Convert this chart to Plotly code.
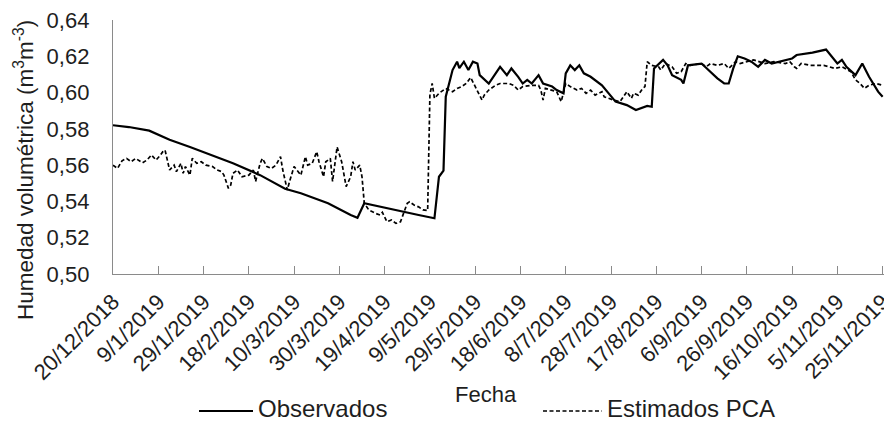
import pandas as pd
import plotly.graph_objects as go

start_date = "2018-12-20"

obs_days = [0, 7, 16, 25, 34, 43, 53, 65, 76, 83,
            95, 105, 108, 111, 118, 124, 135, 142, 144, 146,
            147, 150, 152, 153, 155, 157, 159, 161, 162, 166,
            171, 174, 176, 179, 181, 183, 185, 188, 190, 194,
            196, 199, 200, 202, 204, 206, 208, 211, 216, 222,
            227, 231, 236, 238, 239, 243, 245, 247, 251, 252,
            254, 260, 263, 267, 270, 272, 274, 276, 279, 282,
            285, 288, 291, 294, 297, 300, 302, 309, 315, 320,
            322, 324, 328, 331, 334, 338, 340]
obs_values = [0.582, 0.581, 0.579, 0.574, 0.570, 0.5656, 0.561, 0.5545, 0.547, 0.5445,
              0.539, 0.5325, 0.531, 0.539, 0.537, 0.5353, 0.5325, 0.5307, 0.5536, 0.557,
              0.5977, 0.6124, 0.617, 0.6135, 0.617, 0.6124, 0.617, 0.616, 0.6096, 0.605,
              0.6142, 0.6096, 0.6133, 0.6087, 0.605, 0.607, 0.605, 0.6096, 0.605, 0.6033,
              0.6014, 0.5996, 0.6106, 0.615, 0.6124, 0.615, 0.6106, 0.6087, 0.604, 0.595,
              0.5931, 0.5904, 0.5926, 0.5922, 0.6133, 0.618, 0.615, 0.6096, 0.607, 0.605,
              0.615, 0.616, 0.6124, 0.6078, 0.605, 0.605, 0.6133, 0.620, 0.6188, 0.617,
              0.6142, 0.618, 0.616, 0.617, 0.618, 0.6188, 0.6207, 0.622, 0.6237, 0.616,
              0.618, 0.6142, 0.6096, 0.616, 0.6087, 0.6005, 0.5977]

est_days = [0, 2, 4, 6, 8, 10, 13, 15, 17, 19, 21, 22, 23, 24, 25, 27, 28, 30, 31, 32,
            34, 35, 37, 39, 41, 44, 46, 48, 49, 51, 52, 53, 55, 57, 60, 62, 63, 65, 66, 68,
            70, 72, 74, 75, 77, 78, 80, 83, 85, 86, 88, 90, 91, 93, 94, 96, 97, 99, 101, 103,
            105, 106, 107, 109, 110, 111, 113, 116, 118, 119, 121, 123, 125, 127, 128, 130, 131, 133, 135, 137,
            139, 140, 141, 142, 144, 147, 150, 152, 154, 156, 158, 160, 161, 163, 164, 166, 169, 171, 175, 177,
            179, 181, 185, 188, 189, 190, 191, 194, 196, 198, 200, 202, 205, 207, 209, 211, 213, 216, 217, 221,
            224, 227, 229, 230, 232, 234, 235, 236, 238, 241, 242, 244, 247, 249, 251, 253, 255, 260, 262, 264,
            267, 270, 272, 275, 277, 280, 283, 288, 292, 297, 299, 301, 302, 304, 308, 314, 319, 322, 326, 328,
            330, 332, 334, 337, 340]
est_values = [0.560, 0.5582, 0.5624, 0.5637, 0.5619, 0.5637, 0.5613, 0.5628, 0.5656, 0.5628,
              0.5656, 0.5674, 0.5683, 0.5619, 0.5573, 0.560, 0.5564, 0.561, 0.5555, 0.5592,
              0.5545, 0.5637, 0.561, 0.5619, 0.560, 0.5592, 0.5573, 0.5564, 0.5545, 0.5472,
              0.549, 0.5555, 0.5573, 0.5536, 0.5545, 0.5573, 0.551, 0.561, 0.5637, 0.5592,
              0.5582, 0.560, 0.5647, 0.5573, 0.5463, 0.551, 0.5592, 0.5545, 0.5647, 0.560,
              0.561, 0.5674, 0.5619, 0.5536, 0.5619, 0.5637, 0.551, 0.570, 0.5619, 0.5482,
              0.5536, 0.5619, 0.5573, 0.560, 0.5536, 0.539, 0.5353, 0.5334, 0.5325, 0.534,
              0.5288, 0.5298, 0.5279, 0.5288, 0.5325, 0.539, 0.5398, 0.538, 0.537, 0.5353,
              0.535, 0.599, 0.605, 0.5968, 0.5996, 0.6023, 0.6005, 0.6023, 0.6033, 0.605,
              0.6083, 0.6033, 0.6005, 0.5959, 0.5986, 0.6014, 0.604, 0.605, 0.605, 0.604,
              0.6014, 0.6033, 0.604, 0.604, 0.6014, 0.5959, 0.6023, 0.6014, 0.6005, 0.595,
              0.605, 0.6033, 0.6014, 0.6023, 0.5996, 0.6014, 0.5986, 0.6005, 0.5977, 0.5959,
              0.595, 0.6005, 0.5968, 0.5996, 0.5986, 0.6023, 0.6033, 0.617, 0.615, 0.6142,
              0.6124, 0.616, 0.6142, 0.6106, 0.6115, 0.616, 0.615, 0.616, 0.6142, 0.616,
              0.615, 0.616, 0.6133, 0.617, 0.616, 0.617, 0.618, 0.616, 0.617, 0.616,
              0.617, 0.6142, 0.6133, 0.616, 0.615, 0.615, 0.6133, 0.6142, 0.6115, 0.607,
              0.605, 0.6023, 0.604, 0.605, 0.604]

tick_labels = ["20/12/2018", "9/1/2019", "29/1/2019", "18/2/2019", "10/3/2019",
               "30/3/2019", "19/4/2019", "9/5/2019", "29/5/2019", "18/6/2019",
               "8/7/2019", "28/7/2019", "17/8/2019", "6/9/2019", "26/9/2019",
               "16/10/2019", "5/11/2019", "25/11/2019"]

series_names = ["Observados", "Estimados PCA"]

base = pd.Timestamp(start_date)
obs_dates = base + pd.to_timedelta(obs_days, unit="D")
est_dates = base + pd.to_timedelta(est_days, unit="D")
tick_vals = pd.to_datetime(tick_labels, format="%d/%m/%Y")

FONT = "Liberation Sans, Arial, sans-serif"
TXT = "#1e1e1e"
AX = "#8a8a8a"

# plot area in pixels: x 113..884, y 20..274
PX0, PX1, PY0, PY1 = 113, 884, 20, 274


def px(x):
    return (x - PX0) / (PX1 - PX0)


def py(y):
    return (PY1 - y) / (PY1 - PY0)


obs_line = dict(color="#000000", width=2.2)
est_line = dict(color="#000000", width=1.7, dash="4px,2.5px")

fig = go.Figure()
fig.add_trace(go.Scatter(x=obs_dates, y=obs_values, mode="lines", name=series_names[0],
                         line=obs_line, showlegend=False))
fig.add_trace(go.Scatter(x=est_dates, y=est_values, mode="lines", name=series_names[1],
                         line=est_line, showlegend=False))

# legend drawn as keys + labels below the axis
key_y = py(411)
legend_keys = [(199, 253, obs_line), (543, 602, est_line)]
legend_text_x = [257, 606]
shapes = [dict(type="line", xref="paper", yref="paper", x0=px(a), x1=px(b),
               y0=key_y, y1=key_y, line=ln) for a, b, ln in legend_keys]

annotations = [
    dict(text="Humedad volumétrica (m<sup>3</sup>m<sup>-3</sup>)", textangle=-90,
         xref="paper", yref="paper", x=px(24), y=py(170),
         xanchor="center", yanchor="middle", showarrow=False,
         font=dict(family=FONT, size=22.5, color=TXT)),
    dict(text="Fecha", xref="paper", yref="paper",
         x=px(486), y=py(394),
         xanchor="center", yanchor="middle", showarrow=False,
         font=dict(family=FONT, size=22, color=TXT)),
]
for name, tx in zip(series_names, legend_text_x):
    annotations.append(dict(text=name, xref="paper", yref="paper", x=px(tx), y=py(423),
                            xanchor="left", yanchor="bottom", showarrow=False, borderpad=0,
                            font=dict(family=FONT, size=24, color=TXT)))

fig.update_layout(
    width=884, height=423,
    margin=dict(l=PX0, r=884 - PX1, t=PY0, b=423 - PY1, autoexpand=False),
    paper_bgcolor="white", plot_bgcolor="white",
    separators=",.",
    showlegend=False,
    font=dict(family=FONT, size=22, color=TXT),
    xaxis=dict(type="date", automargin=False,
               range=[base, base + pd.Timedelta(days=340.6)],
               tickmode="array", tickvals=tick_vals, ticktext=tick_labels,
               tickangle=-45, ticks="inside", ticklen=8, tickcolor=AX, tickwidth=1,
               showline=True, linecolor=AX, linewidth=1.3, showgrid=False, zeroline=False,
               ticklabeloverflow="allow",
               tickfont=dict(family=FONT, size=22, color=TXT), ticklabelstandoff=5),
    yaxis=dict(range=[0.50, 0.64], tickmode="linear", tick0=0.50, dtick=0.02, automargin=False,
               tickformat=".2f", ticks="", showline=True, linecolor=AX, linewidth=1.3,
               showgrid=False, zeroline=False,
               tickfont=dict(family=FONT, size=22, color=TXT), ticklabelstandoff=18),
    shapes=shapes,
    annotations=annotations,
)

fig.write_html("out.html")
